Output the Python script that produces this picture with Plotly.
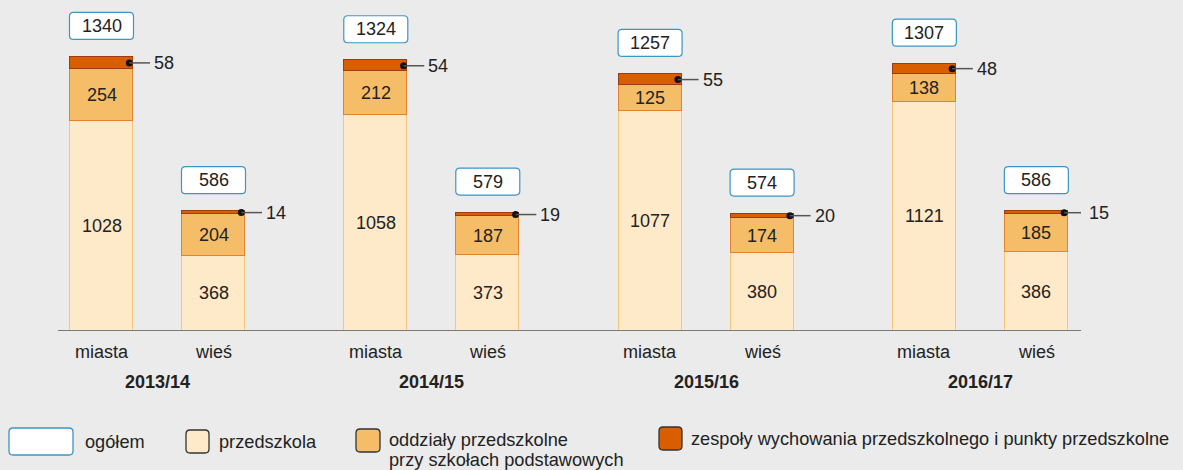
import plotly.graph_objects as go

# ---------------- data ----------------
years = ["2013/14", "2014/15", "2015/16", "2016/17"]
places = ["miasta", "wieś"]
# order: [y0 miasta, y0 wieś, y1 miasta, y1 wieś, ...]
przedszkola = [1028, 368, 1058, 373, 1077, 380, 1121, 386]
oddzialy = [254, 204, 212, 187, 125, 174, 138, 185]
zespoly = [58, 14, 54, 19, 55, 20, 48, 15]
ogolem = [1340, 586, 1324, 579, 1257, 574, 1307, 586]

legend_labels = ["ogółem", "przedszkola", "oddziały przedszkolne", "przy szkołach podstawowych",
                 "zespoły wychowania przedszkolnego i punkty przedszkolne"]

# ---------------- style ----------------
BG = "#ebebeb"
TXT = "#222222"
FONT = "Liberation Sans, Arial, sans-serif"
C_PRZ, B_PRZ = "#fee9c8", "#f6c47c"
C_ODD, B_ODD = "#f5bd68", "#e3812c"
C_ZES, B_ZES = "#d95e00", "#9c3c14"
BOX_BORDER = "#3c95c4"

W, H = 1183, 470
ML, MR, MT, MB = 58, 102, 10, 139
PX_X = 112.0            # pixels per x data unit
GROUP = 2.449           # group spacing in x units
BARW = 0.5625
PLOT_H = H - MT - MB
PX_Y = 0.2045           # pixels per y unit
YMAX = PLOT_H / PX_Y
X0 = -43.5 / PX_X
X1 = X0 + (W - ML - MR) / PX_X

xs = []
for g in range(len(years)):
    for s in range(len(places)):
        xs.append(g * GROUP + s)

fig = go.Figure()
fig.add_trace(go.Bar(x=xs, y=przedszkola, width=BARW, marker=dict(color=C_PRZ, line=dict(color=B_PRZ, width=1.3)),
                     hoverinfo="skip", showlegend=False))
fig.add_trace(go.Bar(x=xs, y=oddzialy, width=BARW, marker=dict(color=C_ODD, line=dict(color=B_ODD, width=1.3)),
                     hoverinfo="skip", showlegend=False))
fig.add_trace(go.Bar(x=xs, y=zespoly, width=BARW, marker=dict(color=C_ZES, line=dict(color=B_ZES, width=1.3)),
                     hoverinfo="skip", showlegend=False))

annotations = []
shapes = []


def rrect_path(x0, y0, x1, y1, rx, ry):
    return (f"M {x0+rx},{y0} L {x1-rx},{y0} Q {x1},{y0} {x1},{y0+ry} "
            f"L {x1},{y1-ry} Q {x1},{y1} {x1-rx},{y1} L {x0+rx},{y1} "
            f"Q {x0},{y1} {x0},{y1-ry} L {x0},{y0+ry} Q {x0},{y0} {x0+rx},{y0} Z")


dot_x, dot_y = [], []
for i, x in enumerate(xs):
    p, o, z, t = przedszkola[i], oddzialy[i], zespoly[i], ogolem[i]
    annotations.append(dict(x=x, y=p / 2, text=str(p), showarrow=False,
                            font=dict(size=18, color=TXT, family=FONT)))
    annotations.append(dict(x=x, y=p + o / 2, text=str(o), showarrow=False,
                            font=dict(size=18, color=TXT, family=FONT)))
    top_mid = p + o + z / 2
    right = x + BARW / 2
    dot_x.append(right - 3.7 / PX_X)
    dot_y.append(top_mid)
    shapes.append(dict(type="line", xref="x", yref="y", x0=right - 3.7 / PX_X, x1=right + 17 / PX_X,
                       y0=top_mid, y1=top_mid, line=dict(color="#555555", width=1.5)))
    annotations.append(dict(x=right, y=top_mid, text=str(z), showarrow=False, xanchor="left",
                            xshift=19, font=dict(size=18, color=TXT, family=FONT)))
    # total box
    top = p + o + z
    cy = top + 31 / PX_Y
    bx0, bx1 = x - 32 / PX_X, x + 32 / PX_X
    by0, by1 = cy - 13.5 / PX_Y, cy + 13.5 / PX_Y
    shapes.append(dict(type="path", xref="x", yref="y",
                       path=rrect_path(bx0, by0, bx1, by1, 4 / PX_X, 4 / PX_Y),
                       fillcolor="white", line=dict(color=BOX_BORDER, width=1.2)))
    annotations.append(dict(x=x, y=cy, text=str(t), showarrow=False,
                            font=dict(size=18, color=TXT, family=FONT)))
    # category label
    annotations.append(dict(x=x, y=-21 / PLOT_H, yref="paper", text=places[i % 2], showarrow=False,
                            yanchor="middle", font=dict(size=18, color=TXT, family=FONT)))

for g, yr in enumerate(years):
    annotations.append(dict(x=g * GROUP + 0.5, y=-51 / PLOT_H, yref="paper", text=f"<b>{yr}</b>",
                            showarrow=False, yanchor="middle", font=dict(size=18, color=TXT, family=FONT)))

fig.add_trace(go.Scatter(x=dot_x, y=dot_y, mode="markers", marker=dict(color="#111111", size=7),
                         hoverinfo="skip", showlegend=False, cliponaxis=False))

# axis baseline
shapes.append(dict(type="line", xref="paper", yref="y", x0=0, x1=1, y0=0, y1=0,
                   line=dict(color="#7a7a7a", width=2)))

# ---------------- legend (pixel placement) ----------------
PW = W - ML - MR


def pxp(px, py):
    return (px - ML) / PW, (H - MB - py) / PLOT_H


leg_boxes = [
    (9, 428, 73, 455, "white", BOX_BORDER),
    (186, 430, 209, 453, C_PRZ, "#333333"),
    (356, 429, 380, 452, C_ODD, "#333333"),
    (659, 427, 682, 450, C_ZES, "#333333"),
]
leg_texts = [(83, 442, 0), (217, 442, 1), (387, 440.5, 2), (387, 460, 3), (689, 439, 4)]
for (x0p, y0p, x1p, y1p, fc, lc) in leg_boxes:
    a0, b0 = pxp(x0p, y1p)
    a1, b1 = pxp(x1p, y0p)
    shapes.append(dict(type="path", xref="paper", yref="paper",
                       path=rrect_path(a0, b0, a1, b1, 4 / PW, 4 / PLOT_H),
                       fillcolor=fc, line=dict(color=lc, width=1.3)))
for (tx, ty, li) in leg_texts:
    ax, ay = pxp(tx, ty)
    annotations.append(dict(x=ax, y=ay, xref="paper", yref="paper", text=legend_labels[li],
                            showarrow=False, xanchor="left", yanchor="middle", align="left",
                            font=dict(size=18.2, color=TXT, family=FONT)))

fig.update_layout(
    width=W, height=H, barmode="stack", bargap=0,
    paper_bgcolor=BG, plot_bgcolor=BG,
    margin=dict(l=ML, r=MR, t=MT, b=MB),
    xaxis=dict(range=[X0, X1], visible=False, fixedrange=True),
    yaxis=dict(range=[0, YMAX], visible=False, fixedrange=True),
    shapes=shapes, annotations=annotations, showlegend=False,
    font=dict(family=FONT, color=TXT),
)

fig.write_html("out.html", config={"displayModeBar": False},
               post_script="document.body.style.margin='0';document.body.style.background='#ebebeb';")
